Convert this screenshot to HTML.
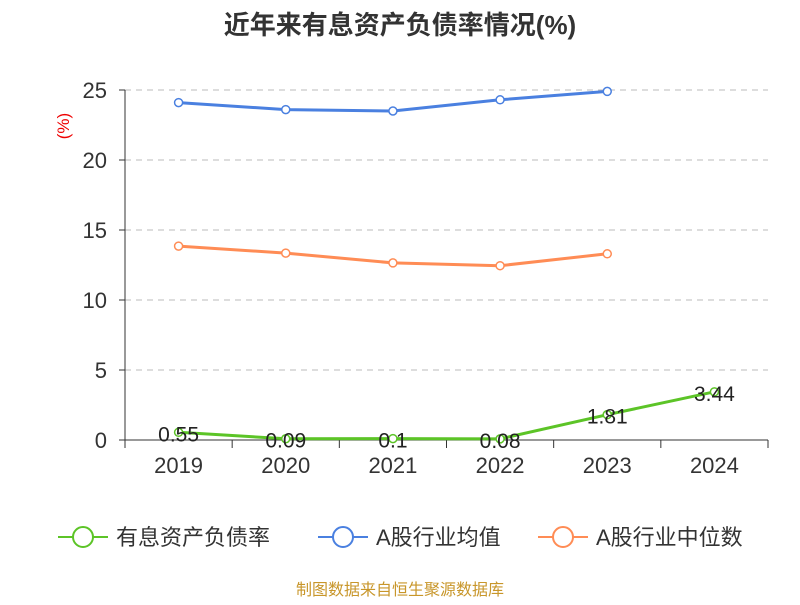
<!DOCTYPE html>
<html><head><meta charset="utf-8"><style>
body{margin:0;background:#fff;font-family:"Liberation Sans","Noto Sans CJK SC",sans-serif;}
</style></head><body>
<svg id="c" width="800" height="600" xmlns="http://www.w3.org/2000/svg">
<text x="400" y="34" text-anchor="middle" font-size="26" font-weight="bold" fill="#333" font-family="Liberation Sans,Noto Sans CJK SC,sans-serif">近年来有息资产负债率情况(%)</text>
<text x="69" y="126" transform="rotate(-90 69 126)" text-anchor="middle" font-size="17" fill="#e00">(%)</text>
<g id="grid"></g><g id="axes"></g><g id="series"></g><g id="legend"></g>
<text x="400" y="595" text-anchor="middle" font-size="16" fill="#c8962a" font-family="Liberation Sans,Noto Sans CJK SC,sans-serif">制图数据来自恒生聚源数据库</text>
</svg>
<script>
const categories=["2019","2020","2021","2022","2023","2024"];
const debtRatio=[0.55,0.09,0.1,0.08,1.81,3.44];
const industryAvg=[24.1,23.6,23.5,24.3,24.9,null];
const industryMedian=[13.85,13.35,12.65,12.45,13.3,null];
const yTicks=[0,5,10,15,20,25];
const NS="http://www.w3.org/2000/svg";
const x0=125,x1=768,yb=440,yt=90,yMax=25;
const xs=i=>x0+(x1-x0)/categories.length*(i+0.5);
const ys=v=>yb-(yb-yt)*v/yMax;
function mk(t,a,p){const e=document.createElementNS(NS,t);for(const k in a)e.setAttribute(k,a[k]);p.appendChild(e);return e;}
const grid=document.getElementById('grid'),axes=document.getElementById('axes'),ser=document.getElementById('series'),leg=document.getElementById('legend');
yTicks.forEach(v=>{
 if(v>0){const l=mk('line',{x1:x0,x2:x1,y1:ys(v),y2:ys(v),stroke:'#bbb','stroke-dasharray':'6,5'},grid);
 
 }
 const t=mk('text',{x:x0-18,y:ys(v)+8,'text-anchor':'end','font-size':22,fill:'#333'},axes);t.textContent=v;
 
 
 mk('line',{x1:x0-6,x2:x0,y1:ys(v),y2:ys(v),stroke:'#333'},axes);
});
mk('line',{x1:x0,x2:x0,y1:yt,y2:yb,stroke:'#333'},axes);
mk('line',{x1:x0,x2:x1,y1:yb,y2:yb,stroke:'#333'},axes);
for(let i=0;i<=categories.length;i++){const x=x0+(x1-x0)/categories.length*i;mk('line',{x1:x,x2:x,y1:yb,y2:yb+8,stroke:'#333'},axes);}
categories.forEach((c,i)=>{const t=mk('text',{x:xs(i),y:yb+33,'text-anchor':'middle','font-size':22,fill:'#333'},axes);t.textContent=c;
 
 });
function series(arr,color,name,labels){
 const pts=[];arr.forEach((v,i)=>{if(v!=null)pts.push([xs(i),ys(v),v]);});
 const p=mk('polyline',{points:pts.map(q=>q[0]+','+q[1]).join(' '),fill:'none',stroke:color,'stroke-width':3},ser);
 
 
 pts.forEach(q=>{const c=mk('circle',{cx:q[0],cy:q[1],r:4,fill:'#fff',stroke:color,'stroke-width':1.5},ser);
  
  
  if(labels){const t=mk('text',{x:q[0],y:q[1]+9,'text-anchor':'middle','font-size':21,fill:'#222'},ser);t.textContent=q[2];
  
  }});
}
series(industryAvg,'#4a80e0','industry-average');
series(industryMedian,'#ff8c55','industry-median');
series(debtRatio,'#5cc427','debt-ratio',true);
[['有息资产负债率','#5cc427',58],['A股行业均值','#4a80e0',318],['A股行业中位数','#ff8c55',538]].forEach(e=>{
 const g=mk('g',{},leg);
 
 
 mk('line',{x1:e[2],x2:e[2]+50,y1:537,y2:537,stroke:e[1],'stroke-width':2},g);
 mk('circle',{cx:e[2]+25,cy:537,r:10,fill:'#fff',stroke:e[1],'stroke-width':2},g);
 const t=mk('text',{x:e[2]+58,y:545,'font-size':22,fill:'#333'},g);t.textContent=e[0];
});
</script>
</body></html>
